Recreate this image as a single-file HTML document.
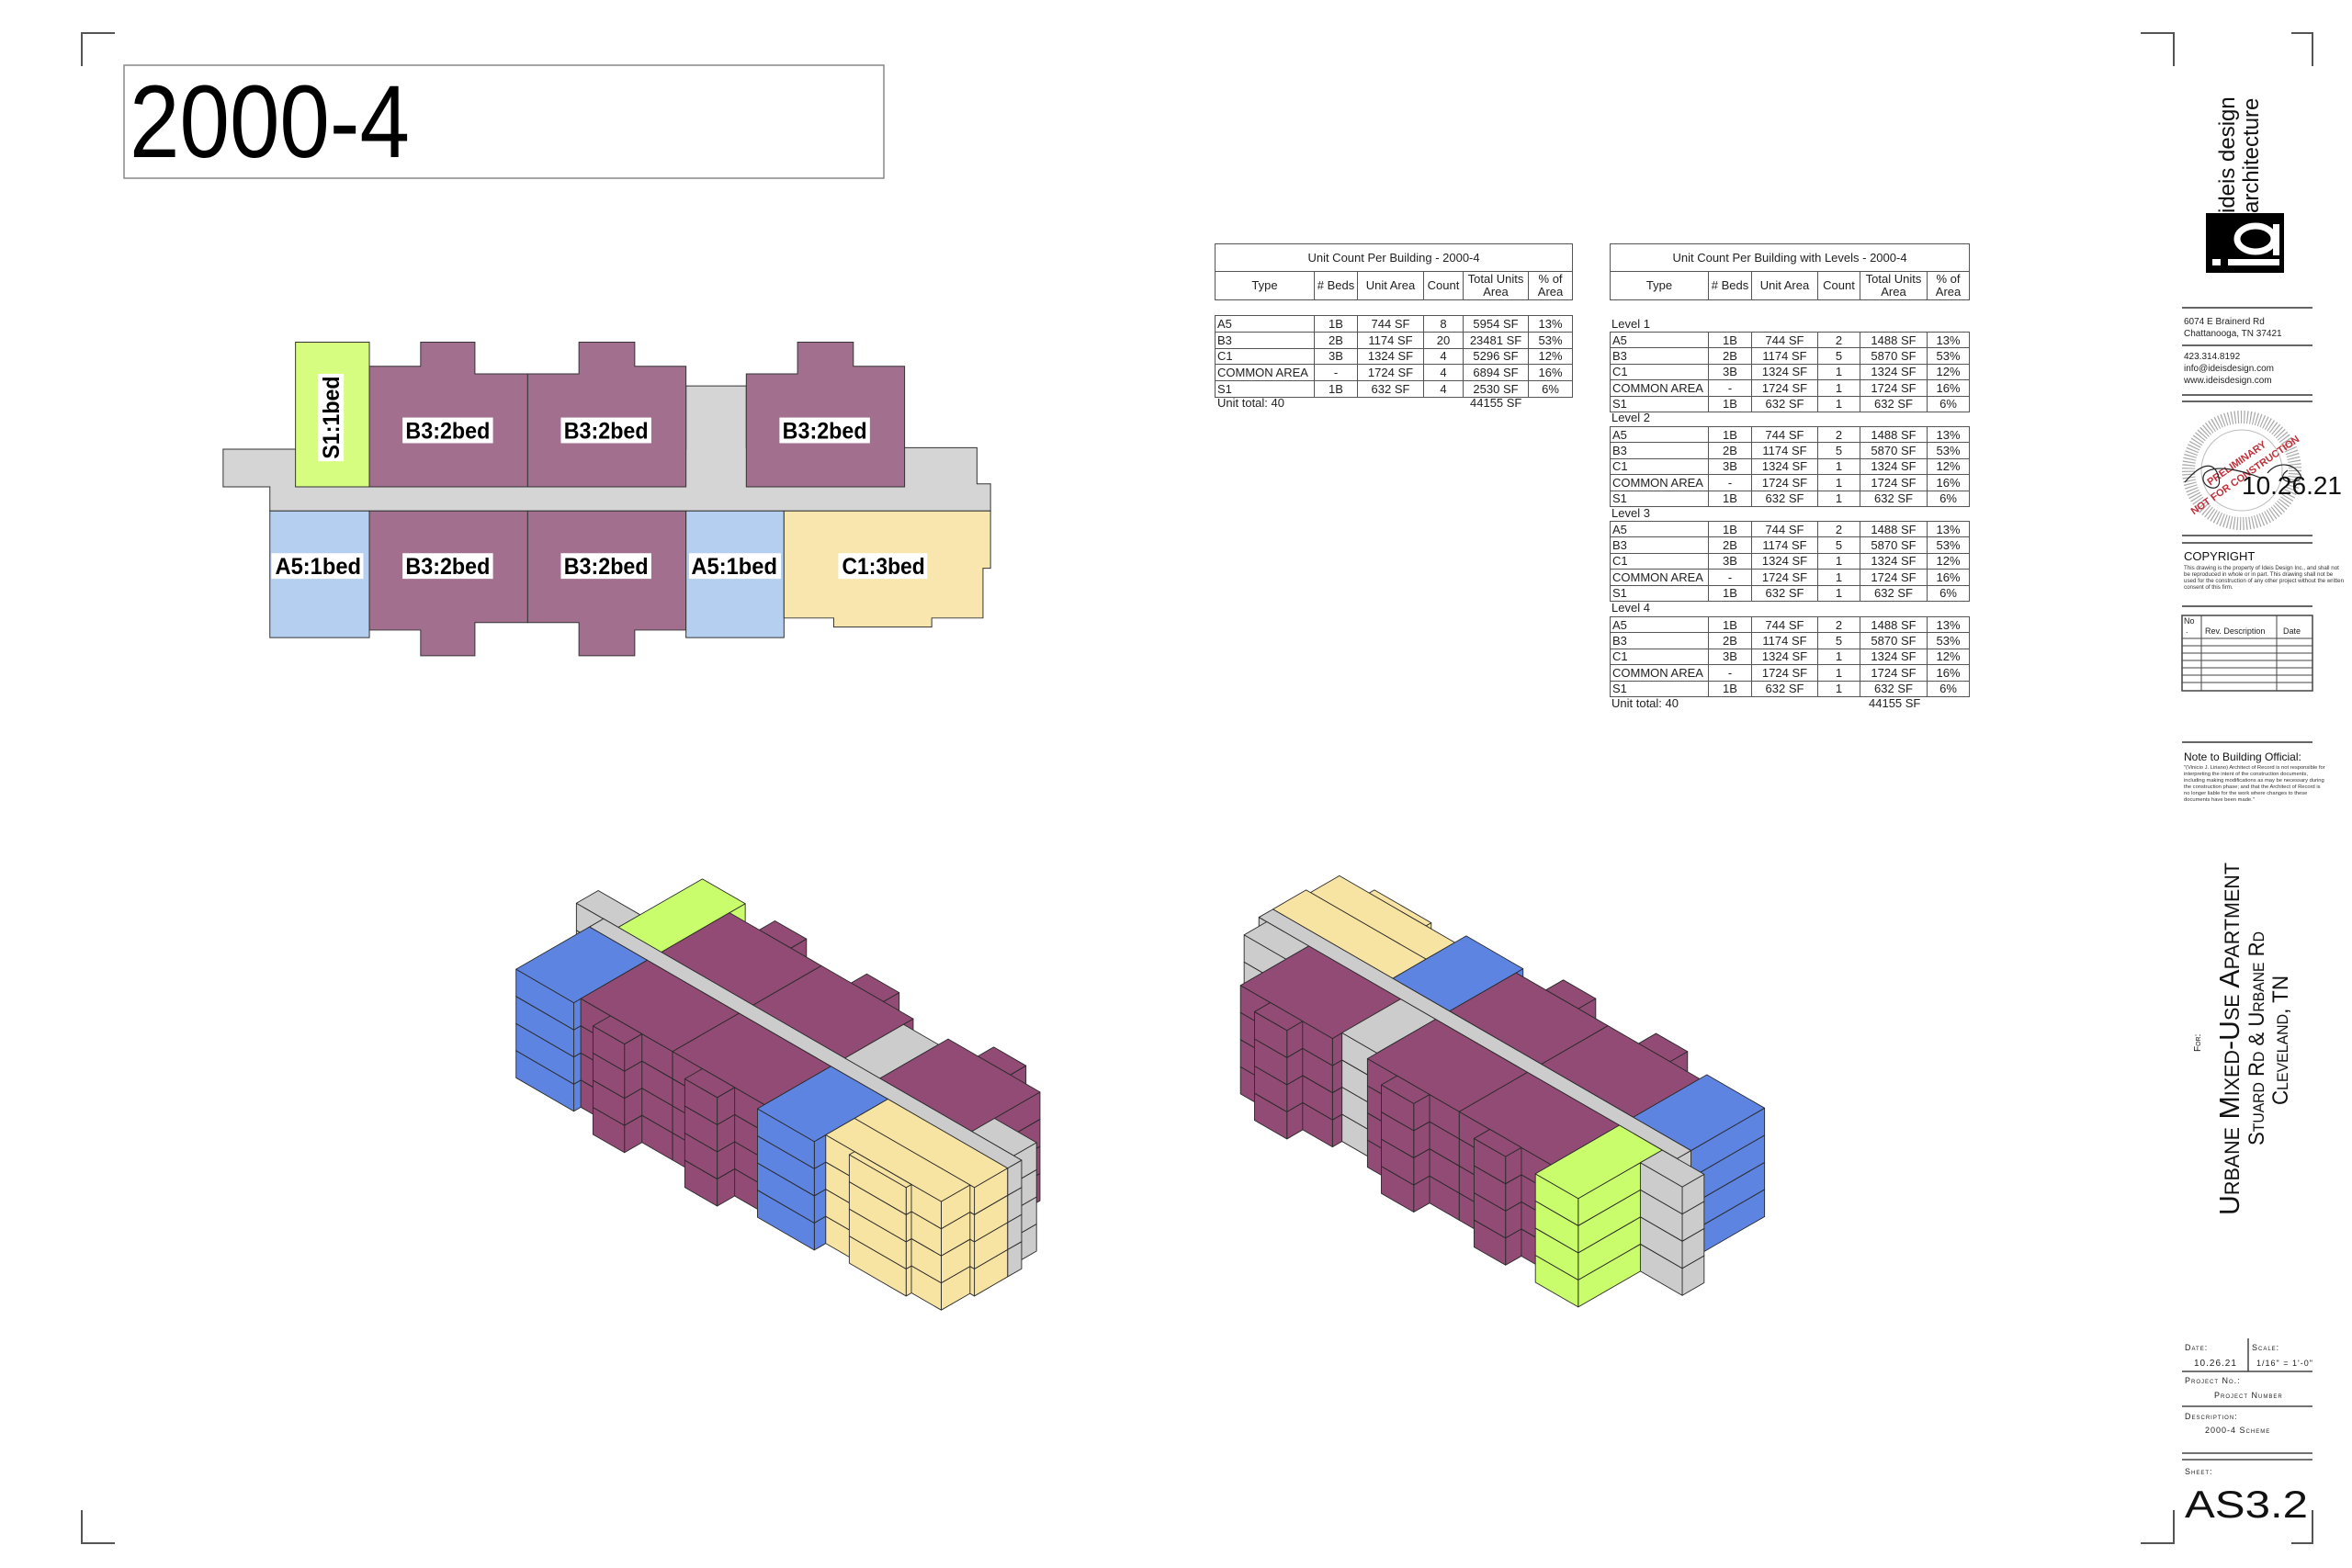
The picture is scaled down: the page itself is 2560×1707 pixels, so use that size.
<!DOCTYPE html>
<html><head><meta charset="utf-8">
<style>
html,body{margin:0;padding:0;background:#fff}
#pg{position:relative;width:2560px;height:1707px;overflow:hidden;background:#fff}
svg{position:absolute;left:0;top:0}
.t{position:absolute;border-collapse:collapse;font-family:"Liberation Sans Narrow","Liberation Sans",sans-serif;font-size:13px;color:#222;table-layout:fixed}
.t td{border:1px solid #555;padding:0 2px;height:16px;line-height:15px;text-align:center;white-space:nowrap;overflow:hidden;box-sizing:border-box}
.t td:first-child{text-align:left}
.h td{text-align:center!important;line-height:14px}
.lbl{position:absolute;font-family:"Liberation Sans Narrow","Liberation Sans",sans-serif;font-size:13px;color:#222;white-space:nowrap}
</style></head><body><div id="pg">
<svg width="2560" height="1707" viewBox="0 0 2560 1707" xmlns="http://www.w3.org/2000/svg" font-family="Liberation Sans, sans-serif">
<!-- corner marks -->
<g stroke="#555" stroke-width="2" fill="none">
<path d="M89 72V36H125"/><path d="M89 1644V1680H125"/>
<path d="M2330 36H2366V72"/><path d="M2494 36H2517V72"/>
<path d="M2330 1680H2366V1644"/><path d="M2494 1680H2517V1644"/>
</g>
<!-- title -->
<rect x="135" y="71" width="827" height="123" fill="none" stroke="#888" stroke-width="1.5"/>
<text x="141" y="171" font-size="112" textLength="305" lengthAdjust="spacingAndGlyphs" fill="#000">2000-4</text>

<!-- plan (display coords) -->
<g transform="scale(1.641)" stroke="#333" stroke-width="0.6">
<polygon fill="#d5d5d5" points="148,298 455,298 455,256 495,256 495,297 648,297 648,321 657,321 657,339 179,339 179,323 148,323"/>
<polygon fill="#d7fd80" points="196,227 245,227 245,323 196,323"/>
<polygon fill="#a36f8f" points="245,243 279,243 279,227 315,227 315,248 350,248 350,323 245,323"/>
<polygon fill="#a36f8f" points="350,248 384,248 384,227 421,227 421,243 455,243 455,323 350,323"/>
<polygon fill="#a36f8f" points="495,248 529,248 529,227 566,227 566,243 600,243 600,323 495,323"/>
<polygon fill="#b4cff0" points="179,339 245,339 245,423 179,423"/>
<polygon fill="#a36f8f" points="245,339 350,339 350,413 315,413 315,435 279,435 279,418 245,418"/>
<polygon fill="#a36f8f" points="350,339 455,339 455,418 421,418 421,435 384,435 384,413 350,413"/>
<polygon fill="#b4cff0" points="455,339 520,339 520,423 455,423"/>
<polygon fill="#f8e6ae" points="520,339 657,339 657,377 652,377 652,410 618,410 618,416 553,416 553,410 520,410"/>
</g>
<g transform="scale(1.641)" font-weight="bold" font-size="15" font-family="Liberation Sans Narrow, Liberation Sans, sans-serif" text-anchor="middle" fill="#000">
<g fill="#fff"><rect x="267" y="277" width="60" height="17"/><rect x="372" y="277" width="60" height="17"/><rect x="517" y="277" width="60" height="17"/>
<rect x="180" y="367" width="61" height="17"/><rect x="267" y="367" width="60" height="17"/><rect x="372" y="367" width="60" height="17"/><rect x="457" y="367" width="61" height="17"/><rect x="556" y="367" width="59" height="17"/>
<rect x="211" y="248" width="17" height="58"/></g>
<text x="297" y="291" textLength="56" lengthAdjust="spacingAndGlyphs">B3:2bed</text>
<text x="402" y="291" textLength="56" lengthAdjust="spacingAndGlyphs">B3:2bed</text>
<text x="547" y="291" textLength="56" lengthAdjust="spacingAndGlyphs">B3:2bed</text>
<text x="211" y="381" textLength="57" lengthAdjust="spacingAndGlyphs">A5:1bed</text>
<text x="297" y="381" textLength="56" lengthAdjust="spacingAndGlyphs">B3:2bed</text>
<text x="402" y="381" textLength="56" lengthAdjust="spacingAndGlyphs">B3:2bed</text>
<text x="487" y="381" textLength="57" lengthAdjust="spacingAndGlyphs">A5:1bed</text>
<text x="586" y="381" textLength="55" lengthAdjust="spacingAndGlyphs">C1:3bed</text>
<text transform="translate(225,277) rotate(-90)" x="0" y="0" textLength="55" lengthAdjust="spacingAndGlyphs">S1:1bed</text>
</g>

<!-- isometric buildings -->
<g id="iso" transform="scale(1.641)" stroke="#2a2a2a" stroke-width="0.55" stroke-linejoin="round"></g>

<!-- title block -->
<g fill="#111">
<text transform="translate(2432,232) rotate(-90)" font-size="24">ideis design</text>
<text transform="translate(2458,232) rotate(-90)" font-size="24">architecture</text>
<rect x="2401" y="232" width="85" height="65" fill="#000"/>
<ellipse cx="2455" cy="260" rx="20" ry="14" fill="none" stroke="#fff" stroke-width="7"/>
<rect x="2474" y="244" width="7" height="34" fill="#fff"/>
<rect x="2425" y="282" width="56" height="7" fill="#fff"/>
<rect x="2408" y="282" width="9" height="7" fill="#fff"/>
</g>
<g stroke="#333" stroke-width="1.5">
<line x1="2375" y1="335" x2="2517" y2="335"/><line x1="2375" y1="376" x2="2517" y2="376"/>
<line x1="2375" y1="430" x2="2517" y2="430"/><line x1="2375" y1="437" x2="2517" y2="437"/>
<line x1="2375" y1="583" x2="2517" y2="583"/><line x1="2375" y1="591" x2="2517" y2="591"/>
<line x1="2375" y1="660" x2="2517" y2="660"/><line x1="2375" y1="808" x2="2517" y2="808"/>
</g>
<g font-size="10" fill="#222">
<text x="2377" y="353">6074 E Brainerd Rd</text><text x="2377" y="366">Chattanooga, TN 37421</text>
<text x="2377" y="391">423.314.8192</text><text x="2377" y="404">info@ideisdesign.com</text><text x="2377" y="417">www.ideisdesign.com</text>
</g>
<!-- stamp -->
<g>
<circle cx="2440" cy="512" r="58" fill="none" stroke="#aaa" stroke-width="14" stroke-dasharray="1.2 2.2"/>
<circle cx="2440" cy="512" r="44" fill="none" stroke="#bbb" stroke-width="1"/>
<g transform="translate(2440,512) rotate(-35)" fill="#c0303a" font-size="11" font-weight="bold" text-anchor="middle">
<text y="-6">PRELIMINARY</text><text y="10">NOT FOR CONSTRUCTION</text></g>
<path d="M2378 525 C2395 505 2410 500 2415 520 C2420 540 2390 530 2400 515 C2410 505 2440 512 2460 520" fill="none" stroke="#222" stroke-width="1.2"/>
<path d="M2468 515 C2480 500 2500 505 2505 520 C2495 530 2475 522 2490 512" fill="none" stroke="#222" stroke-width="1.2"/>
<text x="2440" y="538" font-size="28" fill="#111">10.26.21</text>
</g>
<text x="2377" y="610" font-size="13" fill="#111">COPYRIGHT</text>
<g font-size="6.2" fill="#333">
<text x="2377" y="620">This drawing is the property of Ideis Design Inc., and shall not</text>
<text x="2377" y="627">be reproduced in whole or in part. This drawing shall not be</text>
<text x="2377" y="634">used for the construction of any other project without the written</text>
<text x="2377" y="641">consent of this firm.</text>
</g>
<g stroke="#444" stroke-width="1" fill="none">
<rect x="2375" y="670" width="142" height="82" stroke-width="1.5"/>
<line x1="2396" y1="670" x2="2396" y2="752"/><line x1="2478" y1="670" x2="2478" y2="752"/>
<line x1="2375" y1="695" x2="2517" y2="695"/><line x1="2375" y1="703" x2="2517" y2="703"/><line x1="2375" y1="711" x2="2517" y2="711"/>
<line x1="2375" y1="719" x2="2517" y2="719"/><line x1="2375" y1="727" x2="2517" y2="727"/><line x1="2375" y1="735" x2="2517" y2="735"/><line x1="2375" y1="743" x2="2517" y2="743"/>
</g>
<g font-size="9" fill="#222"><text x="2377" y="679">No</text><text x="2379" y="689">.</text><text x="2400" y="690">Rev. Description</text><text x="2485" y="690">Date</text></g>
<text x="2377" y="828" font-size="12" fill="#111">Note to Building Official:</text>
<g font-size="5.8" fill="#333">
<text x="2377" y="837">"(Vinicio J. Liriano) Architect of Record is not responsible for</text>
<text x="2377" y="844">interpreting the intent of the construction documents,</text>
<text x="2377" y="851">including making modifications as may be necessary during</text>
<text x="2377" y="858">the construction phase; and that the Architect of Record is</text>
<text x="2377" y="865">no longer liable for the work where changes to these</text>
<text x="2377" y="872">documents have been made."</text>
</g>
<g fill="#111" font-variant="small-caps" font-family="Liberation Sans Narrow, Liberation Sans, sans-serif">
<text transform="translate(2395,1145) rotate(-90)" font-size="10">For:</text>
<text transform="translate(2437,1323) rotate(-90)" font-size="31" textLength="384" lengthAdjust="spacingAndGlyphs">Urbane Mixed-Use Apartment</text>
<text transform="translate(2464,1247) rotate(-90)" font-size="24" textLength="233" lengthAdjust="spacingAndGlyphs">Stuard Rd &amp; Urbane Rd</text>
<text transform="translate(2490,1203) rotate(-90)" font-size="24" textLength="141" lengthAdjust="spacingAndGlyphs">Cleveland, TN</text>
</g>
<g stroke="#444" stroke-width="1.5">
<line x1="2447" y1="1457" x2="2447" y2="1493"/>
<line x1="2375" y1="1493" x2="2517" y2="1493"/><line x1="2375" y1="1531" x2="2517" y2="1531"/>
<line x1="2375" y1="1582" x2="2517" y2="1582"/><line x1="2375" y1="1589" x2="2517" y2="1589"/>
</g>
<g fill="#222" font-size="9" font-variant="small-caps" letter-spacing="1">
<text x="2378" y="1470">Date:</text><text x="2388" y="1487" font-size="10">10.26.21</text>
<text x="2451" y="1470">Scale:</text><text x="2456" y="1487" font-size="9">1/16" = 1'-0"</text>
<text x="2378" y="1506">Project No.:</text><text x="2410" y="1522">Project Number</text>
<text x="2378" y="1545">Description:</text><text x="2400" y="1560">2000-4 Scheme</text>
<text x="2378" y="1605">Sheet:</text>
</g>
<text x="2378" y="1652" font-size="42" fill="#111" textLength="134" lengthAdjust="spacingAndGlyphs">AS3.2</text>
</svg>

<!-- Left table -->
<table class="t h" style="left:1322px;top:265px;width:389px">
<colgroup><col style="width:108px"><col style="width:47px"><col style="width:72px"><col style="width:43px"><col style="width:71px"><col style="width:48px"></colgroup>
<tr style="height:30px"><td colspan="6" style="height:30px">Unit Count Per Building - 2000-4</td></tr>
<tr style="height:31px"><td style="height:31px">Type</td><td># Beds</td><td>Unit Area</td><td>Count</td><td>Total Units<br>Area</td><td>% of<br>Area</td></tr>
</table>
<table class="t" style="left:1322px;top:343px;width:389px">
<colgroup><col style="width:108px"><col style="width:47px"><col style="width:72px"><col style="width:43px"><col style="width:71px"><col style="width:48px"></colgroup>
<tr><td style="height:17.8px">A5</td><td>1B</td><td>744 SF</td><td>8</td><td>5954 SF</td><td>13%</td></tr>
<tr><td style="height:17.8px">B3</td><td>2B</td><td>1174 SF</td><td>20</td><td>23481 SF</td><td>53%</td></tr>
<tr><td style="height:17.8px">C1</td><td>3B</td><td>1324 SF</td><td>4</td><td>5296 SF</td><td>12%</td></tr>
<tr><td style="height:17.8px">COMMON AREA</td><td>-</td><td>1724 SF</td><td>4</td><td>6894 SF</td><td>16%</td></tr>
<tr><td style="height:17.8px">S1</td><td>1B</td><td>632 SF</td><td>4</td><td>2530 SF</td><td>6%</td></tr>
</table>
<div class="lbl" style="left:1325px;top:431px">Unit total: 40</div>
<div class="lbl" style="left:1600px;top:431px">44155 SF</div>

<!-- Right table -->
<table class="t h" style="left:1752px;top:265px;width:391px">
<colgroup><col style="width:107px"><col style="width:47px"><col style="width:72px"><col style="width:46px"><col style="width:73px"><col style="width:46px"></colgroup>
<tr><td colspan="6" style="height:30px">Unit Count Per Building with Levels - 2000-4</td></tr>
<tr><td style="height:31px">Type</td><td># Beds</td><td>Unit Area</td><td>Count</td><td>Total Units<br>Area</td><td>% of<br>Area</td></tr>
</table>

<div class="lbl" style="left:1754px;top:345px">Level 1</div>
<table class="t" style="left:1752px;top:361px;width:391px">
<colgroup><col style="width:107px"><col style="width:47px"><col style="width:72px"><col style="width:46px"><col style="width:73px"><col style="width:46px"></colgroup>
<tr><td style="height:17.4px">A5</td><td>1B</td><td>744 SF</td><td>2</td><td>1488 SF</td><td>13%</td></tr>
<tr><td style="height:17.4px">B3</td><td>2B</td><td>1174 SF</td><td>5</td><td>5870 SF</td><td>53%</td></tr>
<tr><td style="height:17.4px">C1</td><td>3B</td><td>1324 SF</td><td>1</td><td>1324 SF</td><td>12%</td></tr>
<tr><td style="height:17.4px">COMMON AREA</td><td>-</td><td>1724 SF</td><td>1</td><td>1724 SF</td><td>16%</td></tr>
<tr><td style="height:17.4px">S1</td><td>1B</td><td>632 SF</td><td>1</td><td>632 SF</td><td>6%</td></tr>
</table>
<div class="lbl" style="left:1754px;top:447px">Level 2</div>
<table class="t" style="left:1752px;top:464px;width:391px">
<colgroup><col style="width:107px"><col style="width:47px"><col style="width:72px"><col style="width:46px"><col style="width:73px"><col style="width:46px"></colgroup>
<tr><td style="height:17.4px">A5</td><td>1B</td><td>744 SF</td><td>2</td><td>1488 SF</td><td>13%</td></tr>
<tr><td style="height:17.4px">B3</td><td>2B</td><td>1174 SF</td><td>5</td><td>5870 SF</td><td>53%</td></tr>
<tr><td style="height:17.4px">C1</td><td>3B</td><td>1324 SF</td><td>1</td><td>1324 SF</td><td>12%</td></tr>
<tr><td style="height:17.4px">COMMON AREA</td><td>-</td><td>1724 SF</td><td>1</td><td>1724 SF</td><td>16%</td></tr>
<tr><td style="height:17.4px">S1</td><td>1B</td><td>632 SF</td><td>1</td><td>632 SF</td><td>6%</td></tr>
</table>
<div class="lbl" style="left:1754px;top:551px">Level 3</div>
<table class="t" style="left:1752px;top:567px;width:391px">
<colgroup><col style="width:107px"><col style="width:47px"><col style="width:72px"><col style="width:46px"><col style="width:73px"><col style="width:46px"></colgroup>
<tr><td style="height:17.4px">A5</td><td>1B</td><td>744 SF</td><td>2</td><td>1488 SF</td><td>13%</td></tr>
<tr><td style="height:17.4px">B3</td><td>2B</td><td>1174 SF</td><td>5</td><td>5870 SF</td><td>53%</td></tr>
<tr><td style="height:17.4px">C1</td><td>3B</td><td>1324 SF</td><td>1</td><td>1324 SF</td><td>12%</td></tr>
<tr><td style="height:17.4px">COMMON AREA</td><td>-</td><td>1724 SF</td><td>1</td><td>1724 SF</td><td>16%</td></tr>
<tr><td style="height:17.4px">S1</td><td>1B</td><td>632 SF</td><td>1</td><td>632 SF</td><td>6%</td></tr>
</table>
<div class="lbl" style="left:1754px;top:654px">Level 4</div>
<table class="t" style="left:1752px;top:671px;width:391px">
<colgroup><col style="width:107px"><col style="width:47px"><col style="width:72px"><col style="width:46px"><col style="width:73px"><col style="width:46px"></colgroup>
<tr><td style="height:17.4px">A5</td><td>1B</td><td>744 SF</td><td>2</td><td>1488 SF</td><td>13%</td></tr>
<tr><td style="height:17.4px">B3</td><td>2B</td><td>1174 SF</td><td>5</td><td>5870 SF</td><td>53%</td></tr>
<tr><td style="height:17.4px">C1</td><td>3B</td><td>1324 SF</td><td>1</td><td>1324 SF</td><td>12%</td></tr>
<tr><td style="height:17.4px">COMMON AREA</td><td>-</td><td>1724 SF</td><td>1</td><td>1724 SF</td><td>16%</td></tr>
<tr><td style="height:17.4px">S1</td><td>1B</td><td>632 SF</td><td>1</td><td>632 SF</td><td>6%</td></tr>
</table>
<div class="lbl" style="left:1754px;top:758px">Unit total: 40</div>
<div class="lbl" style="left:2034px;top:758px">44155 SF</div>
</div>
<script>
(function(){
var PU="#914b75",BL="#5e84e2",YE="#f8e4a2",GR="#c9fd6b",GY="#cccccc";
var R=[
[148,298,196,323,GY],[179,323,657,339,GY],[455,256,495,323,GY],[600,297,648,323,GY],
[196,227,245,323,GR],
[245,245,350,323,PU],[279,227,315,245,PU],
[350,245,455,323,PU],[384,227,421,245,PU],
[495,245,600,323,PU],[529,227,566,245,PU],
[179,339,245,423,BL],
[245,339,350,415,PU],[279,415,315,435,PU],
[350,339,455,415,PU],[384,415,421,435,PU],
[455,339,520,423,BL],
[520,339,657,377,YE],[520,377,652,410,YE],[553,410,618,416,YE]
];
var K=0.67,C=0.866*K,S=0.5*K,FH=18,E=0.01;
function before(o,r){var ob=(o.amax<=r.amin+E||o.bmax<=r.bmin+E);var rb=(r.amax<=o.amin+E||r.bmax<=o.bmin+E);return ob&&!rb;}
function build(X0,Y0,flip){
 var rs=R.map(function(q){return flip?{amin:657-q[2],amax:657-q[0],bmin:435-q[3],bmax:435-q[1],c:q[4]}:{amin:q[0]-148,amax:q[2]-148,bmin:q[1]-227,bmax:q[3]-227,c:q[4]};});
 var out=[],rem=rs.slice();
 while(rem.length){var idx=-1;for(var i=0;i<rem.length;i++){var ok=true;for(var j=0;j<rem.length;j++){if(i!==j&&before(rem[j],rem[i])){ok=false;break;}}if(ok){idx=i;break;}}if(idx<0)idx=0;out.push(rem.splice(idx,1)[0]);}
 function P(a,b,h){return (X0+C*(a-b)).toFixed(1)+","+(Y0+S*(a+b)-h).toFixed(1);}
 var s="";
 out.forEach(function(r){for(var f=0;f<4;f++){var h0=f*FH,h1=(f+1)*FH;
  s+='<polygon fill="'+r.c+'" points="'+P(r.amax,r.bmin,h0)+' '+P(r.amax,r.bmax,h0)+' '+P(r.amax,r.bmax,h1)+' '+P(r.amax,r.bmin,h1)+'"/>';
  s+='<polygon fill="'+r.c+'" points="'+P(r.amin,r.bmax,h0)+' '+P(r.amax,r.bmax,h0)+' '+P(r.amax,r.bmax,h1)+' '+P(r.amin,r.bmax,h1)+'"/>';
  s+='<polygon fill="'+r.c+'" points="'+P(r.amin,r.bmin,h1)+' '+P(r.amax,r.bmin,h1)+' '+P(r.amax,r.bmax,h1)+' '+P(r.amin,r.bmax,h1)+'"/>';
 }});
 return s;
}
document.getElementById("iso").innerHTML=build(438,639,false)+build(900,643,true);
})();
</script>
</body></html>
